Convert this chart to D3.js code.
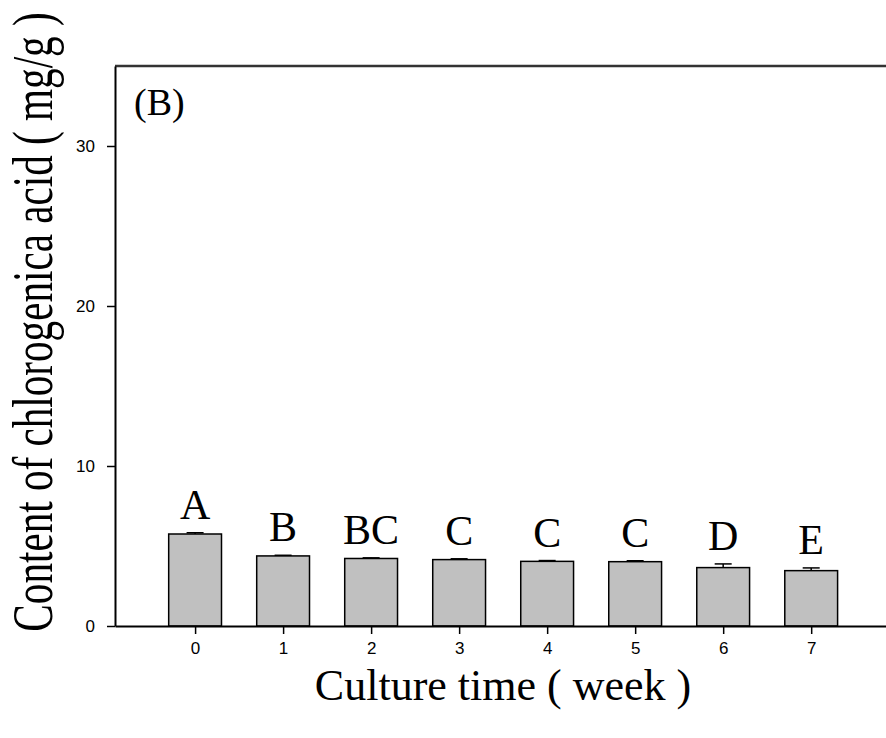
<!DOCTYPE html>
<html>
<head>
<meta charset="utf-8">
<script src="https://cdn.jsdelivr.net/npm/d3@7"></script>
<style>
  body { margin: 0; background: #fff; }
  svg { display: block; }
</style>
</head>
<body>
<svg id="chart" width="886" height="738"></svg>
<script>
// data
const weeks = [0, 1, 2, 3, 4, 5, 6, 7];
const means = [5.75, 4.38, 4.22, 4.15, 4.04, 4.02, 3.65, 3.46];
const errors = [0.08, 0.04, 0.04, 0.05, 0.05, 0.06, 0.23, 0.17];
const letters = ["A", "B", "BC", "C", "C", "C", "D", "E"];
const yTicks = [0, 10, 20, 30];

const svg = d3.select("svg#chart");
const plotLeft = 115, plotRight = 886, plotTop = 66, plotBottom = 626;

const x = d3.scaleLinear().domain([-0.91, 7.85]).range([plotLeft, plotRight]);
const y = d3.scaleLinear().domain([0, 35]).range([plotBottom, plotTop]);
const barW = x(0.6) - x(0);

// frame: top line only (image is cut on the right)
svg.append("line")
  .attr("x1", plotLeft).attr("x2", plotRight).attr("y1", plotTop).attr("y2", plotTop)
  .attr("stroke", "#333").attr("stroke-width", 2.5);

// bars
svg.append("g")
  .selectAll("rect")
  .data(weeks)
  .join("rect")
  .attr("x", (d) => x(d) - barW / 2)
  .attr("y", (d, i) => y(means[i]))
  .attr("width", barW)
  .attr("height", (d, i) => y(0) - y(means[i]))
  .attr("fill", "#c0c0c0")
  .attr("stroke", "#000")
  .attr("stroke-width", 1.5);

// error bars (upper only)
const err = svg.append("g").attr("stroke", "#000").attr("stroke-width", 1.5);
weeks.forEach((w, i) => {
  err.append("line")
    .attr("x1", x(w)).attr("x2", x(w))
    .attr("y1", y(means[i])).attr("y2", y(means[i] + errors[i]));
  err.append("line")
    .attr("x1", x(w) - 8.5).attr("x2", x(w) + 8.5)
    .attr("y1", y(means[i] + errors[i])).attr("y2", y(means[i] + errors[i]));
});

// significance letters
svg.append("g")
  .selectAll("text")
  .data(weeks)
  .join("text")
  .attr("x", (d) => x(d))
  .attr("y", (d, i) => y(means[i] + errors[i]) - 14)
  .attr("text-anchor", "middle")
  .style("font-family", "'Liberation Serif', 'Times New Roman', serif")
  .style("font-size", "42px")
  .text((d, i) => letters[i]);

// x axis
const xAxis = svg.append("g")
  .attr("transform", `translate(0, ${plotBottom})`)
  .call(d3.axisBottom(x).tickValues(weeks).tickFormat(d3.format("d")).tickSize(8).tickPadding(8).tickSizeOuter(0));
xAxis.select(".domain").attr("stroke", "#000").attr("stroke-width", 2);
xAxis.selectAll(".tick line").attr("stroke", "#000").attr("stroke-width", 1.5);
xAxis.selectAll("text")
  .style("font-family", "'Liberation Sans', Arial, sans-serif")
  .style("font-size", "17px")
  .attr("fill", "#000");

// y axis
const yAxis = svg.append("g")
  .attr("transform", `translate(${plotLeft}, 0)`)
  .call(d3.axisLeft(y).tickValues(yTicks).tickSize(8).tickPadding(12).tickSizeOuter(0));
yAxis.select(".domain").attr("stroke", "#000").attr("stroke-width", 2);
yAxis.selectAll(".tick line").attr("stroke", "#000").attr("stroke-width", 1.5);
yAxis.selectAll("text")
  .style("font-family", "'Liberation Sans', Arial, sans-serif")
  .style("font-size", "17px")
  .attr("fill", "#000");

// panel label
svg.append("text")
  .attr("x", 134).attr("y", 115)
  .style("font-family", "'Liberation Serif', 'Times New Roman', serif")
  .style("font-size", "38px")
  .text("(B)");

// axis titles
svg.append("text")
  .attr("x", (313 + 693) / 2).attr("y", 700)
  .attr("text-anchor", "middle")
  .style("font-family", "'Liberation Serif', 'Times New Roman', serif")
  .style("font-size", "44px")
  .text("Culture time ( week )");

// y title is drawn condensed along its length, as in the source
svg.append("text")
  .attr("transform", "translate(52, 322) rotate(-90) scale(0.735, 1)")
  .attr("text-anchor", "middle")
  .style("font-family", "'Liberation Serif', 'Times New Roman', serif")
  .style("font-size", "56px")
  .text("Content of chlorogenica acid ( mg/g )");
</script>
</body>
</html>
